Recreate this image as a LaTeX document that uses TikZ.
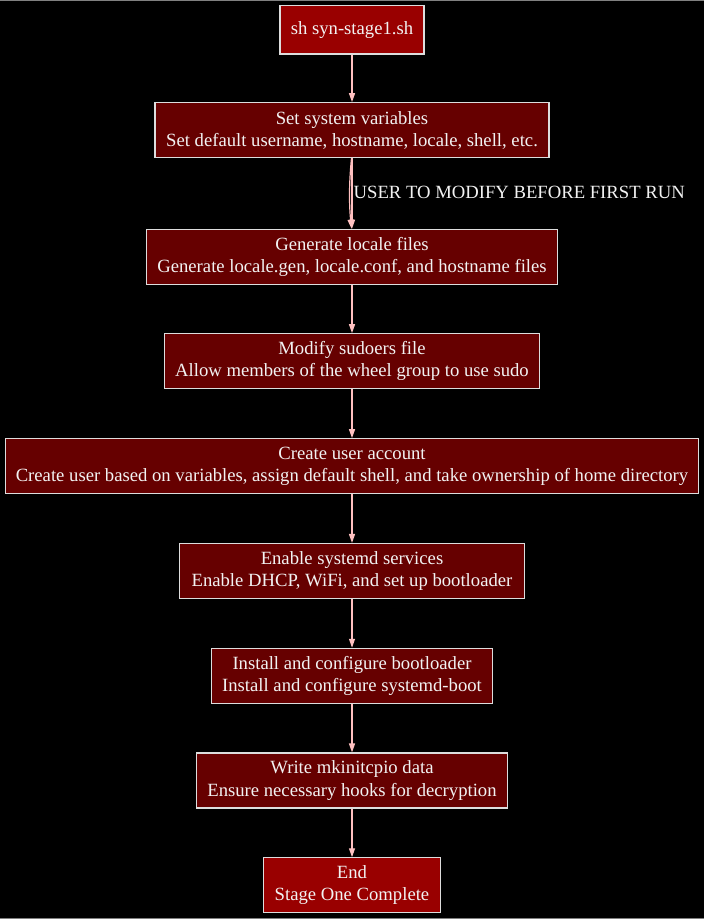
\documentclass[tikz,border=0pt]{standalone}
\usepackage{fontspec}
\setmainfont{Liberation Serif}
\usetikzlibrary{arrows.meta}
\definecolor{startfill}{HTML}{990000}
\definecolor{stepfill}{HTML}{660000}
\definecolor{boxline}{HTML}{DDDDDD}
\definecolor{edgecol}{HTML}{FFC0C0}
\definecolor{txtcol}{HTML}{F2F2F2}
\definecolor{frame}{HTML}{808080}
\begin{document}
\begin{tikzpicture}[x=1pt,y=-1pt,
  box/.style={draw=boxline,line width=1.1pt,fill=stepfill,text=txtcol,align=center,
    inner sep=0pt,font=\fontsize{18.67}{22.4}\selectfont},
  termbox/.style={box,fill=startfill},
  flow/.style={draw=edgecol,line width=1.2pt,-{Triangle[length=9pt,width=6pt]}},
  lbl/.style={text=txtcol,inner sep=0pt,font=\fontsize{18.67}{22.4}\selectfont}]
\fill[black] (0,0) rectangle (704,919);
\useasboundingbox (0,0) rectangle (704,919);
\draw[frame,line width=1.2pt] (0,0.6) -- (704,0.6);
\draw[frame,line width=1.2pt] (0,918.4) -- (704,918.4);
\node[termbox,minimum width=144pt,minimum height=48.5pt] (n1) at (352,29.7) {sh syn-stage1.sh};
\node[box,minimum width=394pt,minimum height=55pt] (n2) at (352,130.2) {Set system variables\\Set default username, hostname, locale, shell, etc.};
\node[box,minimum width=410.3pt,minimum height=55pt] (n3) at (352,256.7) {Generate locale files\\Generate locale.gen, locale.conf, and hostname files};
\node[box,minimum width=375pt,minimum height=55pt] (n4) at (352,361.2) {Modify sudoers file\\Allow members of the wheel group to use sudo};
\node[box,minimum width=693.6pt,minimum height=55pt] (n5) at (352,466.2) {Create user account\\Create user based on variables, assign default shell, and take ownership of home directory};
\node[box,minimum width=345pt,minimum height=55pt] (n6) at (352,571) {Enable systemd services\\Enable DHCP, WiFi, and set up bootloader};
\node[box,minimum width=281pt,minimum height=55pt] (n7) at (352,675.8) {Install and configure bootloader\\Install and configure systemd-boot};
\node[box,minimum width=310.6pt,minimum height=55pt] (n8) at (352,780.5) {Write mkinitcpio data\\Ensure necessary hooks for decryption};
\node[termbox,minimum width=176.7pt,minimum height=55pt] (n9) at (352,885.3) {End\\Stage One Complete};
\node[lbl,anchor=west] (lab) at (353.5,192.5) {USER TO MODIFY BEFORE FIRST RUN};
\draw[flow] (n1) -- (n2);
\draw[flow] ([xshift=-0.5pt]n2.south) .. controls ([xshift=-3pt,yshift=-25pt]n2.south) and ([xshift=-3pt,yshift=25pt]n3.north) .. ([xshift=-0.5pt]n3.north);
\draw[flow] (n2) -- (n3);
\draw[flow] (n3) -- (n4);
\draw[flow] (n4) -- (n5);
\draw[flow] (n5) -- (n6);
\draw[flow] (n6) -- (n7);
\draw[flow] (n7) -- (n8);
\draw[flow] (n8) -- (n9);
\end{tikzpicture}
\end{document}
